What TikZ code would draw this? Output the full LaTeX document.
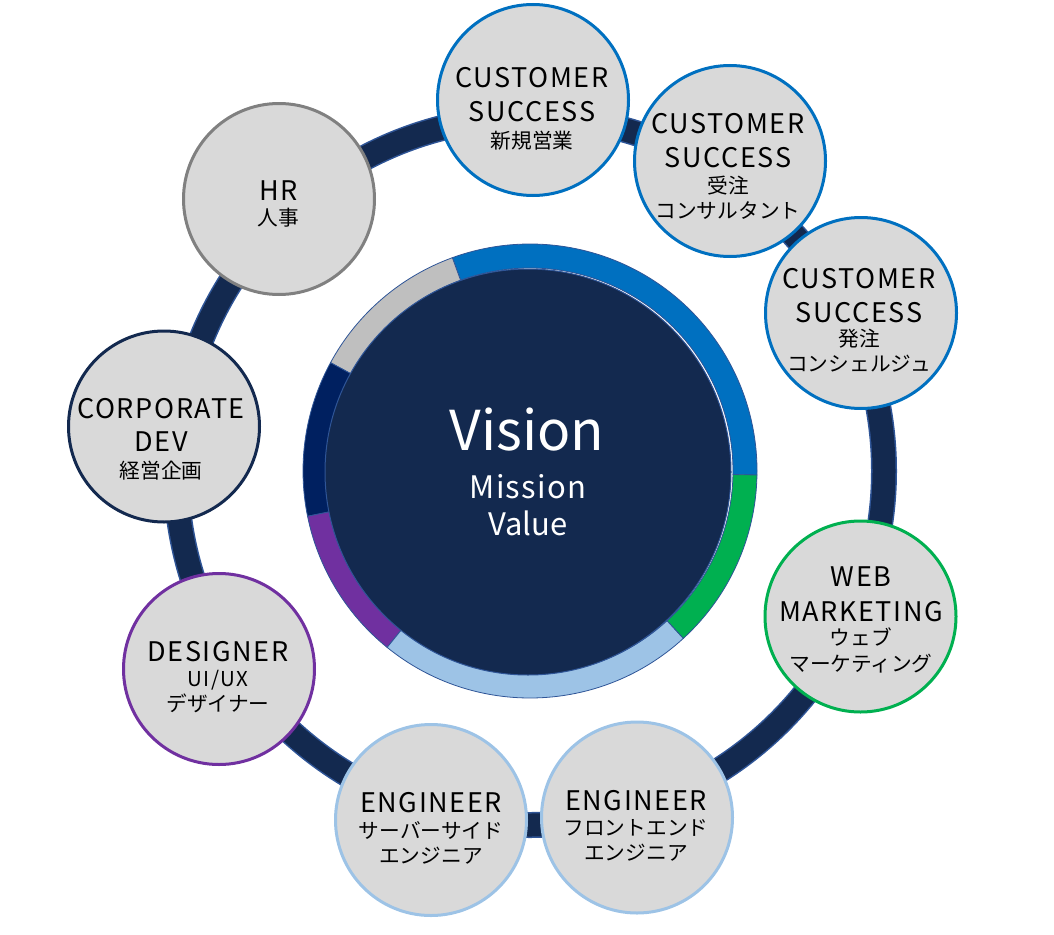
\documentclass[tikz,border=0pt]{standalone}
\usepackage{fontspec}
\setmainfont{Noto Sans CJK JP}
\newfontfamily\latfont[LetterSpace=6]{Noto Sans CJK JP}
\newfontfamily\midfont[LetterSpace=4]{Noto Sans CJK JP}
\definecolor{navy}{HTML}{13294F}
\definecolor{edgeblue}{HTML}{2F5597}
\definecolor{cblue}{HTML}{0070C0}
\definecolor{cgreen}{HTML}{00B050}
\definecolor{clight}{HTML}{9DC3E6}
\definecolor{cpurple}{HTML}{7030A0}
\definecolor{cdark}{HTML}{002060}
\definecolor{cgrey}{HTML}{BFBFBF}
\definecolor{hrgrey}{HTML}{808080}
\definecolor{fillgrey}{HTML}{D9D9D9}
\newcommand\ringseg[3]{\filldraw[segline, fill=#1] (#2:227) arc[start angle=#2, end angle=#3, radius=227] -- (#3:203) arc[start angle=#3, end angle=#2, radius=203] -- cycle;}
\begin{document}
\begin{tikzpicture}[x=1pt,y=-1pt,
  member/.style={circle, fill=fillgrey, line width=3pt, minimum size=191pt, inner sep=0pt},
  lat/.style={anchor=base, font=\latfont\fontsize{27}{30}\selectfont, text=black, inner sep=0pt},
  jp/.style={anchor=base, font=\fontsize{20.7}{24}\selectfont, text=black, inner sep=0pt},
  segline/.style={draw=edgeblue, line width=0.8pt},
  bandedge/.style={draw=edgeblue, line width=26pt},
  band/.style={draw=navy, line width=23pt},
  core/.style={circle, fill=navy, draw=edgeblue, line width=1pt, minimum size=406pt, inner sep=0pt},
  ctext/.style={anchor=base, text=white, inner sep=0pt}]
\useasboundingbox (0,0) rectangle (1054,934);
\coordinate (O) at (530,471);
% connecting ring
\draw[bandedge] (O) circle[radius=354];
\draw[band] (O) circle[radius=354];
% segmented ring around the core
\begin{scope}[shift={(530,471)}, yscale=-1]
\ringseg{cblue}{-1}{110}
\ringseg{cgrey}{110}{151.5}
\ringseg{cdark}{151.5}{191.5}
\ringseg{cpurple}{191.5}{231}
\ringseg{clight}{231}{312.5}
\ringseg{cgreen}{312.5}{359}
\end{scope}
\node[core] (core) at (528,472) {};
\node[ctext, font=\fontsize{55}{60}\selectfont] (vision) at (527,450) {Vision};
\node[ctext, font=\midfont\fontsize{31}{34}\selectfont] (mission) at (528,498) {Mission};
\node[ctext, font=\fontsize{31}{34}\selectfont] (value) at (528,535) {Value};
% members
\node[member, draw=cblue] (cs1) at (533,100) {};
\node[lat] (cs1a) at (532,88) {CUSTOMER};
\node[lat] (cs1b) at (532,121.5) {SUCCESS};
\node[jp] (cs1c) at (532,148) {新規営業};

\node[member, draw=cblue] (cs2) at (730,161) {};
\node[lat] (cs2a) at (728,133) {CUSTOMER};
\node[lat] (cs2b) at (728,167.5) {SUCCESS};
\node[jp] (cs2c) at (728,193) {受注};
\node[jp] (cs2d) at (728,218) {コンサルタント};

\node[member, draw=cblue] (cs3) at (861,313) {};
\node[lat] (cs3a) at (859,288) {CUSTOMER};
\node[lat] (cs3b) at (859,322) {SUCCESS};
\node[jp] (cs3c) at (859,346) {発注};
\node[jp] (cs3d) at (859,371) {コンシェルジュ};

\node[member, draw=cgreen] (web) at (860.5,616.5) {};
\node[lat] (weba) at (861,586.5) {WEB};
\node[lat] (webb) at (861,621.5) {MARKETING};
\node[jp] (webc) at (861,645) {ウェブ};
\node[jp] (webd) at (861,671) {マーケティング};

\node[member, draw=clight] (engf) at (637,817.5) {};
\node[lat] (engfa) at (636,810) {ENGINEER};
\node[jp] (engfb) at (636,835) {フロントエンド};
\node[jp] (engfc) at (636,860) {エンジニア};

\node[member, draw=clight] (engs) at (431,820) {};
\node[lat] (engsa) at (431,812.5) {ENGINEER};
\node[jp] (engsb) at (431,838) {サーバーサイド};
\node[jp] (engsc) at (431,863) {エンジニア};

\node[member, draw=cpurple] (des) at (219,669) {};
\node[lat] (desa) at (218,661) {DESIGNER};
\node[lat, font=\latfont\fontsize{20.5}{24}\selectfont] (desb) at (218,686.5) {UI/UX};
\node[jp] (desc) at (218,711) {デザイナー};

\node[member, draw=navy] (corp) at (164,426.5) {};
\node[lat] (corpa) at (161,418) {CORPORATE};
\node[lat] (corpb) at (161,451.5) {DEV};
\node[jp] (corpc) at (161,478) {経営企画};

\node[member, draw=hrgrey] (hr) at (279,199) {};
\node[lat] (hra) at (278.5,200) {HR};
\node[jp] (hrb) at (278.5,225) {人事};
\end{tikzpicture}
\end{document}
